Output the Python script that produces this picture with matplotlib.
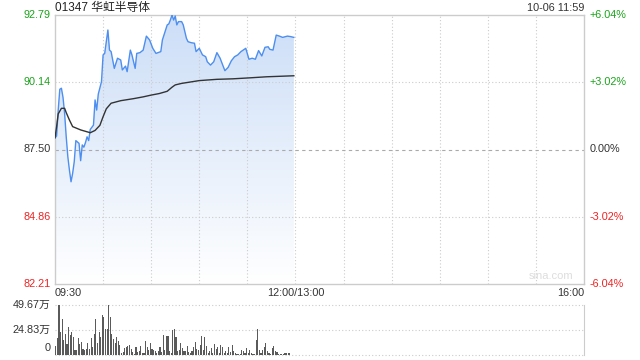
import numpy as np
import matplotlib
matplotlib.use('Agg')
import matplotlib.pyplot as plt

plt.rcParams['font.family'] = ['Liberation Sans', 'Noto Sans CJK SC', 'DejaVu Sans']

# stock info
title = "01347 华虹半导体"
stamp = "10-06 11:59"
pre_close = 87.50

# price line (minutes after 09:30, price)
price_t = [0, 1, 2, 3, 4, 5, 6, 7, 8, 9, 10, 11, 12, 13, 15, 16, 17, 18, 19, 20,
           21, 22, 24, 25, 26, 27, 29, 30, 31, 33, 34, 35, 37, 39, 41, 42, 44, 45, 47, 48,
           50, 51, 53, 55, 57, 59, 61, 63, 66, 67, 70, 71, 72, 73, 74, 75, 76, 77, 79, 80,
           82, 83, 85, 87, 88, 90, 92, 94, 95, 97, 99, 101, 103, 105, 106, 108, 110, 112, 114, 116,
           119, 121, 123, 125, 127, 129, 131, 133, 134, 136, 138, 140, 142, 145, 147, 149]
price = [87.96, 88.03, 89.05, 89.87, 89.91, 89.55, 88.92, 88.00, 87.22, 86.69, 86.23, 86.56, 87.02, 87.85, 87.74, 87.06, 87.68, 87.59, 87.77, 88.00,
         87.85, 88.29, 88.46, 89.45, 89.05, 89.68, 90.17, 91.22, 91.28, 92.20, 91.41, 91.35, 90.69, 91.09, 91.02, 90.63, 90.78, 90.56, 91.41, 91.22,
         90.69, 91.28, 91.31, 91.41, 91.96, 91.81, 91.48, 91.28, 91.35, 91.81, 92.40, 92.44, 92.60, 92.79, 92.59, 92.75, 92.40, 92.53, 92.53, 92.40,
         91.87, 91.74, 91.70, 91.68, 91.35, 91.48, 91.22, 91.15, 90.95, 90.82, 90.95, 91.31, 91.09, 90.76, 90.60, 90.73, 90.99, 91.15, 91.22, 91.35,
         91.48, 91.05, 91.09, 91.05, 91.39, 91.18, 91.52, 91.54, 91.44, 91.41, 92.00, 91.96, 91.91, 91.96, 91.94, 91.91]

# average price line
avg_t = [0, 1, 2, 4, 6, 7, 9, 11, 16, 22, 25, 28, 30, 32, 35, 41, 49, 55, 60, 65,
         70, 73, 75, 79, 90, 101, 111, 122, 132, 149]
avg_price = [87.96, 88.40, 88.90, 89.12, 89.12, 88.95, 88.66, 88.40, 88.27, 88.16, 88.25, 88.45, 88.79, 89.10, 89.32, 89.42, 89.50, 89.57, 89.64, 89.70,
             89.79, 89.95, 90.04, 90.10, 90.21, 90.26, 90.28, 90.32, 90.36, 90.40]

# volume per minute, in 万
volume = [8.9, 16.6, 49.7, 23.2, 35.8, 14.9, 20.9, 10.9, 27.5, 19.9, 22.5, 18.2, 5.0, 5.0, 16.6, 10.6, 12.6, 5.6, 5.0, 5.6,
          11.6, 5.6, 16.6, 8.3, 20.9, 35.8, 12.3, 23.2, 18.2, 39.7, 38.1, 25.5, 25.5, 49.7, 38.1, 20.9, 15.6, 11.6, 18.2, 14.2,
          9.9, 1.7, 3.3, 6.6, 8.3, 8.9, 9.9, 5.6, 3.3, 1.0, 8.3, 3.3, 4.3, 8.9, 2.3, 2.3, 14.2, 8.3, 5.0, 11.6,
          5.6, 5.0, 4.3, 1.7, 4.3, 8.3, 3.3, 20.2, 5.0, 19.2, 19.2, 4.3, 2.3, 24.8, 26.2, 18.2, 4.3,
          5.0, 12.3, 6.6, 4.3, 4.3, 8.9, 3.3, 2.3, 4.3, 8.3, 13.2, 5.6, 5.0, 9.9, 18.9, 5.0, 18.2, 8.9, 2.3, 4.3,
          7.3, 2.3, 10.9, 5.6, 8.3, 1.7, 9.9, 7.6, 1.7, 4.0, 1.7, 8.3, 3.3, 9.9, 4.3, 2.3, 1.0, 1.0, 1.0, 5.0,
          4.0, 2.3, 6.6, 1.7, 5.0, 2.3, 1.0, 1.0, 14.9, 25.5, 5.0, 2.3, 5.0, 7.6, 12.3, 4.3, 2.3, 1.0, 7.3, 8.9,
          4.3, 3.3, 1.0, 1.0, 1.0, 1.0, 1.7, 1.7, 1.7, 1.7]

left_ticks = [92.79, 90.14, 87.50, 84.86, 82.21]
left_labels = ["92.79", "90.14", "87.50", "84.86", "82.21"]
right_labels = ["+6.04%", "+3.02%", "0.00%", "-3.02%", "-6.04%"]
tick_colors = ["#1aa31a", "#1aa31a", "#333333", "#ee2222", "#ee2222"]
vol_ticks = [49.67, 24.83, 0]
vol_labels = ["49.67万", "24.83万", "0"]

grid_col = "#cccccc"
fs = 7.8

fig = plt.figure(figsize=(6.4, 3.6), dpi=100)
ax = fig.add_axes([55 / 640, 1 - 284 / 360, 529 / 640, 269 / 360])
axv = fig.add_axes([55 / 640, 5 / 360, 529 / 640, 50 / 360])

ymin, ymax = left_ticks[-1], left_ticks[0]
ax.set_xlim(0, 330)
ax.set_ylim(ymin, ymax)

# grid (drawn over the fill, like the original)
for x in range(30, 330, 30):
    ax.axvline(x, color=grid_col, lw=0.8, ls=(0, (1, 2)), zorder=2)
for y in left_ticks[1:-1]:
    if y == pre_close:
        ax.axhline(y, color="#aaaaaa", lw=0.8, ls=(0, (3, 3)), zorder=2)
    else:
        ax.axhline(y, color=grid_col, lw=0.8, ls=(0, (1, 2)), zorder=2)

# gradient fill under price
poly = ax.fill_between(price_t, price, ymin, color='none', lw=0)
grad = np.linspace(1, 0, 256).reshape(-1, 1)
top_c = np.array([0.80, 0.87, 0.97])
bot_c = np.array([1.0, 1.0, 1.0])
img = grad[..., None] * top_c + (1 - grad[..., None]) * bot_c
im = ax.imshow(img, extent=[0, price_t[-1], ymin, ymax], aspect='auto', origin='upper', zorder=1)
path = poly.get_paths()[0]
im.set_clip_path(path, transform=ax.transData)

ax.plot(price_t, price, color="#4d8ff0", lw=1.0, zorder=3)
ax.plot(avg_t, avg_price, color="#333333", lw=1.0, zorder=3)

for s in ax.spines.values():
    s.set_color(grid_col)
    s.set_linewidth(1.0)
ax.set_xticks([])
ax.set_yticks([])

# tick labels
for y, lab, rlab, c in zip(left_ticks, left_labels, right_labels, tick_colors):
    ax.text(-4 / 529 * 330, y, lab, ha='right', va='center', color=c, fontsize=fs)
    ax.text(333.5, y, rlab, ha='left', va='center', color=c, fontsize=fs)

ax.text(0, 1 + 7 / 269, title, transform=ax.transAxes, ha='left', va='center', fontsize=8.5, color="#222222")
ax.text(1, 1 + 7 / 269, stamp, transform=ax.transAxes, ha='right', va='center', fontsize=fs, color="#333333")
ax.text(0.98, 0.01, "sina.com", transform=ax.transAxes, ha='right', va='bottom', fontsize=8, color="#dddddd")

ax.text(0, -0.015, "09:30", transform=ax.transAxes, ha='left', va='top', fontsize=fs, color="#333333")
ax.text(150 / 330, -0.015, "12:00/13:00", transform=ax.transAxes, ha='center', va='top', fontsize=fs, color="#333333")
ax.text(1, -0.015, "16:00", transform=ax.transAxes, ha='right', va='top', fontsize=fs, color="#333333")

# volume panel
axv.set_xlim(0, 330)
axv.set_ylim(0, vol_ticks[0])
axv.bar(np.arange(len(volume)) + 0.5, volume, width=0.7, color="#5a5a5a", antialiased=False, zorder=2)
for y in vol_ticks:
    axv.axhline(y, color=grid_col, lw=0.8, ls=(0, (1, 2)), zorder=0, clip_on=False)
for k in ['left', 'top', 'bottom']:
    axv.spines[k].set_visible(False)
axv.spines['right'].set_color(grid_col)
axv.set_xticks([])
axv.set_yticks([])
for y, lab in zip(vol_ticks, vol_labels):
    yy = y if y > 0 else 7
    axv.text(-4 / 529 * 330, yy, lab, ha='right', va='center', fontsize=fs, color="#333333")

fig.savefig("out.png", dpi=100)
